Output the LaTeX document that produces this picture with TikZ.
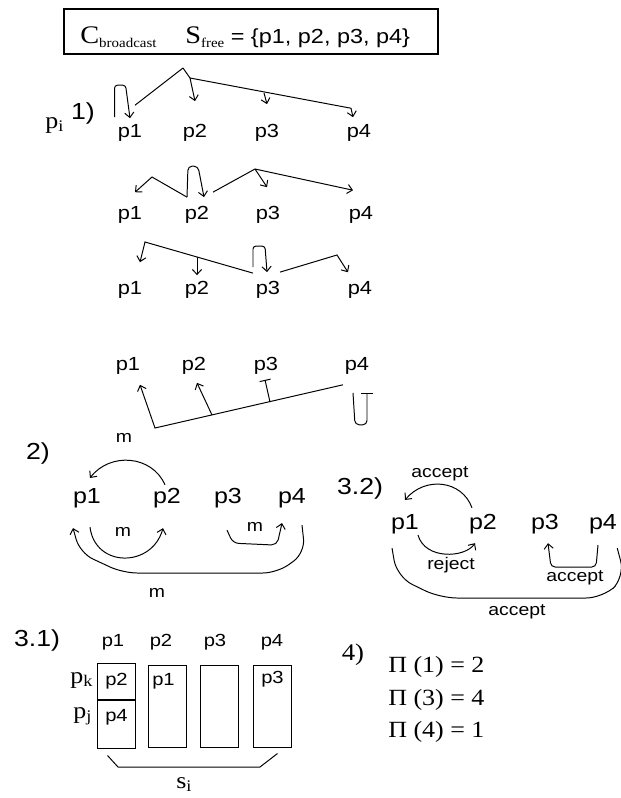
\documentclass[tikz,border=0pt]{standalone}
\usepackage{fontspec}
\setmainfont[FakeStretch=1.15]{Liberation Sans}
\newfontfamily\tnr[FakeStretch=1.12]{Liberation Serif}
\usetikzlibrary{positioning, arrows.meta, calc}

\begin{document}
\begin{tikzpicture}[
  x=0.025cm, y=-0.025cm,
  hand/.style={line width=0.7pt, -{Straight Barb[length=3.5pt,width=6.5pt]}},
  plain/.style={line width=0.7pt},
  bartip/.style={line width=0.7pt, -{Bar[width=8pt]}},
  pn/.style={font=\fontsize{13.5}{16}\selectfont, inner sep=0pt},
  pb/.style={font=\fontsize{15.5}{18}\selectfont, inner sep=0pt},
  pc/.style={font=\fontsize{12.5}{15}\selectfont, inner sep=0pt},
  msg/.style={font=\fontsize{12}{14}\selectfont, inner sep=0pt},
  num/.style={font=\fontsize{16.5}{19}\selectfont, inner sep=0pt},
  serif/.style={font=\tnr\fontsize{16.5}{19}\selectfont, inner sep=0pt},
  cell/.style={draw, line width=0.7pt, minimum width=0.95cm, inner sep=0pt},
]
\useasboundingbox (0,0) rectangle (620,798);

% header box
\node[draw, line width=0.8pt, minimum width=9.35cm, minimum height=1.125cm, inner sep=0pt] (title) at (251,31.5) {};
\node[anchor=base west, inner sep=0pt, font=\tnr\fontsize{18}{20}\selectfont] (cb) at (80,43)
  {C\raisebox{-3pt}{\fontsize{9.5}{12}\selectfont broadcast}};
\node[anchor=base west, inner sep=0pt, font=\fontsize{14.5}{18}\selectfont] (sf) at (185,43)
  {{\tnr\fontsize{18}{20}\selectfont S\raisebox{-3pt}{\fontsize{9.5}{12}\selectfont free}} = \{p1, p2, p3, p4\}};

% 1)
\node[num] (n1) at (83,113) {1)};
\node[serif, anchor=base west] (pi) at (45,128) {p\textsubscript{i}};
\foreach \i/\x in {1/130, 2/195, 3/267, 4/359} {
  \node[pn] (r1p\i) at (\x,133) {p\i};
}
\foreach \i/\x in {1/130, 2/197, 3/268, 4/361} {
  \node[pn] (r2p\i) at (\x,215) {p\i};
}
\foreach \i/\x in {1/130, 2/197, 3/268, 4/360} {
  \node[pn] (r3p\i) at (\x,290) {p\i};
}
\foreach \i/\x in {1/128, 2/194, 3/266, 4/357} {
  \node[pn] (r4p\i) at (\x,366) {p\i};
}

% row 1: p1 sends
\coordinate (s1) at (183,68);
\coordinate (b1) at (190,78);
\coordinate (b1c) at (264,93);
\draw[hand, rounded corners=2] ($(r1p1.north west)+(-3,-7)$) -- ++(0,-32) -- ++(11,0) -- ($(r1p1.north)+(0,-6)$);
\draw[plain] (s1) -- ($(r1p1.north)+(5,-19)$);
\draw[hand] (s1) -- (b1) -- ($(r1p2.north)+(0,-23)$);
\draw[hand] (b1) -- ($(r1p4.north)+(-8,-16)$) -- ($(r1p4.north)+(-6,-7)$);
\draw[hand] (b1c) -- ($(r1p3.north)+(0,-20)$);

% row 2: p2 sends
\coordinate (c2l) at (152,177);
\coordinate (s2) at (255,169);
\draw[hand, rounded corners=3] ($(r2p2.north)+(-10,-9)$) -- ++(1,-31) -- ++(10,0) -- ($(r2p2.north)+(7,-9)$);
\draw[hand] ($(r2p2.north)+(-10,-9)$) -- (c2l) -- ($(r2p1.north)+(5,-14)$);
\draw[plain] ($(r2p2.north)+(16,-14)$) -- (s2);
\draw[hand] (s2) -- ($(r2p3.north)+(-1,-19)$);
\draw[hand] (s2) -- ($(r2p4.north)+(-8,-16)$);

% row 3: p3 sends
\coordinate (s3) at (145,242);
\coordinate (b3) at (197,257);
\coordinate (c3r) at (337,255);
\draw[hand, rounded corners=2] ($(r3p3.north)+(-15,-14)$) -- ++(0,-21) -- ++(12,0) -- ($(r3p3.north)+(-1,-9)$);
\draw[hand] ($(r3p3.north)+(-15,-8)$) -- (s3) -- ($(r3p1.north)+(10,-19)$);
\draw[hand] (b3) -- ($(r3p2.north)+(0,-6)$);
\draw[hand] ($(r3p3.north)+(12,-9)$) -- (c3r) -- ($(r3p4.north)+(-12,-9)$);

% row 4: p4 sends
\coordinate (c4) at (155,428);
\coordinate (b4a) at (212,415);
\coordinate (b4b) at (270,402);
\draw[hand] ($(r4p4.south)+(-14,10)$) -- (c4) -- ($(r4p1.south)+(12,10)$);
\draw[hand] (b4a) -- ($(r4p2.south)+(3,8)$);
\draw[bartip] (b4b) -- ($(r4p3.south)+(-1,5)$);
\draw[bartip, rounded corners=3] ($(r4p4.south)+(-4,18)$) -- ++(2,32) -- ++(12,0) -- ($(r4p4.south)+(10,18)$);

% 2)
\node[num] (n2) at (38,453) {2)};
\foreach \i/\x in {1/87, 2/167, 3/228, 4/292} {
  \node[pb] (m\i) at (\x,498) {p\i};
}
\draw[hand] ($(m2.north)+(-2,-3)$) .. controls (152,455) and (110,452) .. ($(m1.north)+(3,-10)$);
\node[msg] (lm1) at (124,438) {m};
\draw[hand] ($(m1.south)+(3,19)$) .. controls (95,568) and (152,568) .. ($(m2.south)+(-4,20)$);
\node[msg] (lm2) at (123,532) {m};
\draw[hand, rounded corners=4] ($(m3.south)+(-1,22)$) -- ++(6,13) -- ++(44,2) -- ($(m4.south)+(-10,15)$);
\node[msg] (lm3) at (255,527) {m};
\draw[hand, rounded corners=10] ($(m4.south)+(10,17)$) -- (305,553) -- (277,573) -- (123,573) -- (80,553) -- ($(m1.south)+(-14,20)$);
\node[msg] (lm4) at (157,593) {m};

% 3.2)
\node[num] (n32) at (360,488) {3.2)};
\foreach \i/\x in {1/405, 2/483, 3/545, 4/603} {
  \node[pb] (q\i) at (\x,524) {p\i};
}
\draw[hand] ($(q2.north)+(-11,-6)$) .. controls (462,480) and (425,476) .. ($(q1.north)+(0,-14)$);
\node[msg] (la1) at (440,474) {accept};
\draw[hand] ($(q1.south)+(13,1)$) .. controls (425,560) and (465,558) .. ($(q2.south)+(-8,9)$);
\node[msg] (lr1) at (451,565) {reject};
\draw[hand, rounded corners=3] ($(q4.south)+(-5,11)$) -- ++(-2,22) -- ++(-45,0) -- ($(q3.south)+(3,9)$);
\node[msg] (la2) at (575,578) {accept};
\draw[plain, rounded corners=12] ($(q4.south east)+(0,14)$) -- (625,577) -- (603,598) -- (440,598) -- (397,577) -- ($(q1.south)+(-13,14)$);
\node[msg] (la3) at (517,612) {accept};

% 3.1)
\node[num] (n31) at (37,640) {3.1)};
\foreach \i/\x in {1/113, 2/161, 3/215, 4/272} {
  \node[pc] (h\i) at (\x,642) {p\i};
}
\node[cell, minimum height=0.9cm, font=\fontsize{12.5}{15}\selectfont] (k1) at (116.5,681) {p2};
\node[cell, minimum height=1.2cm, below=0pt of k1] (j1) {};
\node[cell, minimum height=2.05cm] (box2) at (167.5,706) {};
\node[cell, minimum height=2.05cm] (box3) at (219,706) {};
\node[cell, minimum height=2.05cm] (box4) at (272.5,706) {};
\node[pc] (t4) at ($(j1.north)+(0,18)$) {p4};
\node[pc] (t1) at ($(box2.north)+(-4,17)$) {p1};
\node[pc] (t3) at ($(box4.north)+(0,15)$) {p3};
\node[serif, anchor=base west] (pk) at (70,683) {p\textsubscript{k}};
\node[serif, anchor=base west] (pj) at (73,718) {p\textsubscript{j}};
\coordinate (brl) at (118,767);
\coordinate (brr) at (260,767);
\draw[plain] ($(j1.south)+(-9,7)$) -- (brl) -- (brr) -- ($(box4.south)+(5,6)$);
\node[serif, anchor=base west] (si) at (176,788) {s\textsubscript{i}};

% 4)
\node[serif, font=\tnr\fontsize{17}{20}\selectfont] (n4) at (353,655) {4)};
\node[serif, anchor=west] (pi1) at (388,667) {Π (1) = 2};
\node[serif, anchor=west] (pi3) at (388,700) {Π (3) = 4};
\node[serif, anchor=west] (pi4) at (388,732) {Π (4) = 1};

\end{tikzpicture}
\end{document}
